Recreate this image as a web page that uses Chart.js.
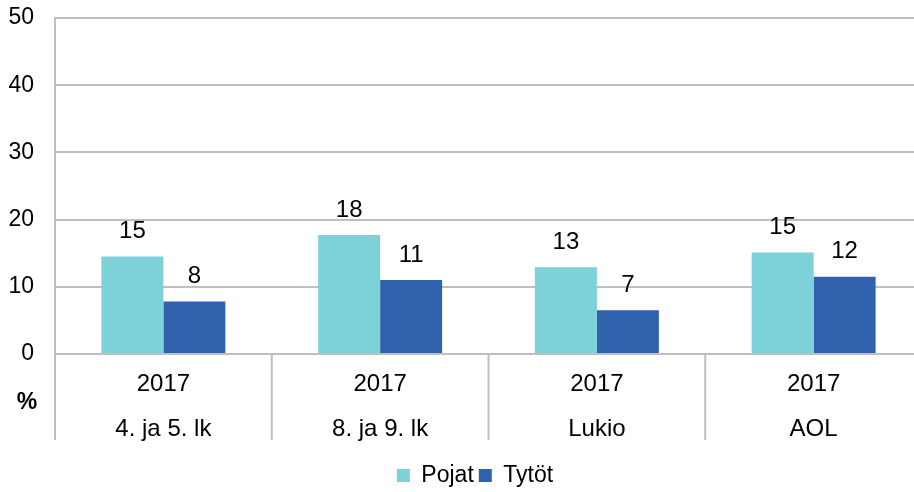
<!DOCTYPE html>
<html>
<head>
<meta charset="utf-8">
<script src="https://cdn.jsdelivr.net/npm/chart.js@4/dist/chart.umd.min.js"></script>
<style>
  html, body { margin: 0; padding: 0; background: #fff; overflow: hidden; }
  #wrap { width: 914px; height: 492px; overflow: hidden; }
  #box { width: 950px; height: 492px; }
</style>
</head>
<body>
<div id="wrap"><div id="box"><canvas id="chart"></canvas></div></div>
<script>
// data
const years = ["2017", "2017", "2017", "2017"];
const groups = ["4. ja 5. lk", "8. ja 9. lk", "Lukio", "AOL"];
const pojat = [14.5, 17.7, 12.9, 15.1];
const tytot = [7.8, 11.0, 6.5, 11.5];
// printed labels as shown in the chart
const pojatLabels = ["15", "18", "13", "15"];
const tytotLabels = ["8", "11", "7", "12"];
const yTicks = [0, 10, 20, 30, 40, 50];

const FONT = "'Liberation Sans', Arial, sans-serif";
const GRID = '#bfbfbf';

//draws the numbers above the bars, the group separators and the % sign
const extras = {
    id: 'extras',
    afterLayout(chart) {
        //legend sits a bit right of the middle in the original
        chart.legend.left += 14;
        chart.legend.right += 14;
        chart.legend.top += 7;
        chart.legend.bottom += 7;
    },
    afterDatasetsDraw(chart) {
        const ctx = chart.ctx;
        const area = chart.chartArea;
        const xs = chart.scales.x;
        ctx.save();

        //separator lines below the axis
        const n = xs.ticks.length;
        const step = n > 1 ? xs.getPixelForTick(1) - xs.getPixelForTick(0) : xs.width;
        ctx.strokeStyle = GRID;
        ctx.lineWidth = 2;
        for (let i = 0; i <= n; i++) {
            const x = xs.getPixelForTick(0) - step / 2 + i * step;
            ctx.beginPath();
            ctx.moveTo(x, area.bottom);
            ctx.lineTo(x, area.bottom + 86);
            ctx.stroke();
        }

        ctx.fillStyle = '#000';
        ctx.textAlign = 'center';
        ctx.textBaseline = 'middle';
        ctx.font = '24px ' + FONT;
        const texts = [pojatLabels, tytotLabels];
        chart.data.datasets.forEach((ds, i) => {
            chart.getDatasetMeta(i).data.forEach((bar, j) => {
                ctx.fillText(texts[i][j], bar.x, bar.y - 25);
            });
        });
        ctx.font = 'bold 23px ' + FONT;
        ctx.fillText('%', area.left - 28, area.bottom + 49);
        ctx.restore();
    }
};

new Chart(document.getElementById('chart').getContext('2d'), {
    type: 'bar',
    data: {
        labels: years.map((y, i) => [y, groups[i]]),
        datasets: [
            { label: 'Pojat', data: pojat, backgroundColor: '#7dd1d8' },
            { label: 'Tytöt', data: tytot, backgroundColor: '#3061ad' }
        ]
    },
    options: {
        responsive: true,
        maintainAspectRatio: false,
        animation: false,
        layout: { padding: { top: 0, right: 28, left: 0, bottom: 2 } },
        categoryPercentage: 0.572,
        barPercentage: 1.0,
        plugins: {
            legend: {
                position: 'bottom',
                labels: {
                    color: '#000',
                    font: { family: FONT, size: 23 },
                    boxWidth: 13,
                    boxHeight: 13,
                    padding: 5
                }
            },
            tooltip: { enabled: false }
        },
        scales: {
            x: {
                offset: true,
                grid: { display: false },
                border: { display: true, color: GRID, width: 2 },
                ticks: {
                    color: '#000',
                    font: { family: FONT, size: 24, lineHeight: 1.875 },
                    padding: 0,
                    maxRotation: 0,
                    autoSkip: false
                }
            },
            y: {
                min: 0,
                max: 50,
                afterFit(scale) {
                    scale.width = 55;
                    scale.paddingTop = 18;
                    scale.paddingBottom = 0;
                },
                afterBuildTicks(scale) { scale.ticks = yTicks.map(v => ({ value: v })); },
                grid: { drawTicks: false, color: GRID, lineWidth: 2 },
                border: { display: true, color: GRID, width: 2 },
                ticks: {
                    color: '#000',
                    font: { family: FONT, size: 23 },
                    padding: 21
                }
            }
        }
    },
    plugins: [extras]
});
</script>
</body>
</html>
